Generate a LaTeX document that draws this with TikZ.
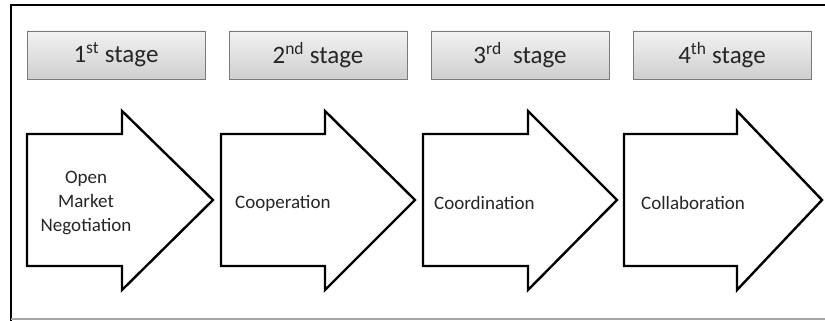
\documentclass[tikz,border=0pt]{standalone}
\usepackage{fontspec}
\setmainfont{Carlito}
\usetikzlibrary{shadows}
\definecolor{boxtop}{HTML}{F2F2F2}
\definecolor{boxbot}{HTML}{CFCFCF}
\definecolor{boxline}{HTML}{7A7A7A}
\definecolor{txt}{HTML}{262626}
\begin{document}
\begin{tikzpicture}[x=1pt,y=1pt,
  stagebox/.style={draw=boxline, line width=0.9pt, top color=boxtop, bottom color=boxbot,
    minimum width=178pt, minimum height=48pt, inner sep=0pt,
    font=\fontsize{25}{30}\selectfont, text=txt,
    drop shadow={opacity=0.25, shadow xshift=1pt, shadow yshift=-1.2pt}},
  arrowline/.style={draw=black, line width=2.4pt, fill=white, line join=miter},
  arrowtext/.style={font=\fontsize{19}{24}\selectfont, text=txt, inner sep=0pt}]
\useasboundingbox (0,0) rectangle (825,321);
% frame
\draw[black, line width=2.6pt] (11,0) -- (11,316) -- (826,316);
\draw[gray!70, line width=1.2pt] (11,2) -- (826,2);
% stage boxes
\node[stagebox] (s1) at (116,266) {1\textsuperscript{st} stage};
\node[stagebox] (s2) at (318,266) {2\textsuperscript{nd} stage};
\node[stagebox] (s3) at (520,266) {3\textsuperscript{rd}\ \ stage};
\node[stagebox] (s4) at (722,266) {4\textsuperscript{th} stage};
% arrows
\foreach \L/\N/\T in {27/122/213, 221/325/415, 423/528/617, 624/737/822}{
  \draw[arrowline] (\L,187) -- (\N,187) -- (\N,210) -- (\T,121) -- (\N,31) -- (\N,55) -- (\L,55) -- cycle;
}
% arrow texts
\node[arrowtext, align=center] (a1) at (86,118) {Open\\Market\\Negotiation};
\node[arrowtext, anchor=west] (a2) at (235,118) {Cooperation};
\node[arrowtext, anchor=west] (a3) at (434,118) {Coordination};
\node[arrowtext, anchor=west] (a4) at (641,118) {Collaboration};
\end{tikzpicture}
\end{document}
